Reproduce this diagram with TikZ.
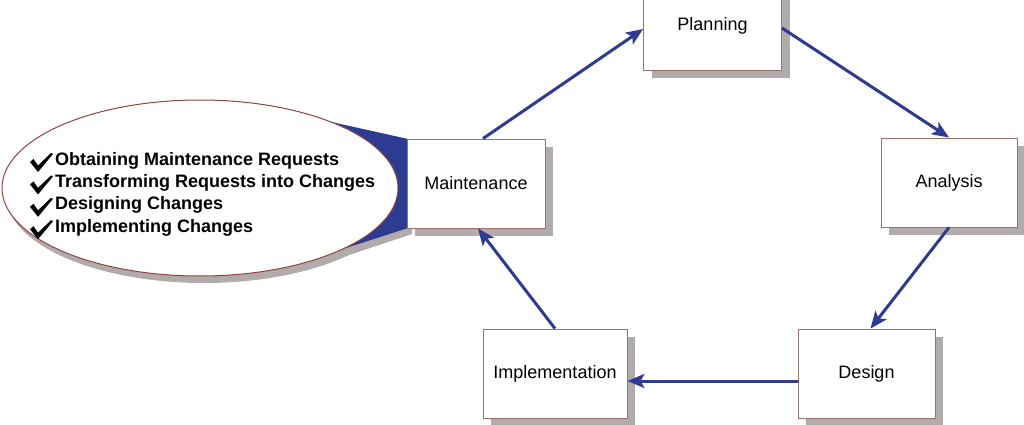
\documentclass[tikz,border=0pt]{standalone}
\usepackage{fontspec}
\setmainfont{Liberation Sans}
\usetikzlibrary{shapes.geometric,shadows,calc,arrows.meta}
\definecolor{arrowblue}{HTML}{2E3B92}
\definecolor{boxedge}{HTML}{9C716C}
\definecolor{shadowgray}{HTML}{B2ABAB}
\definecolor{ovaledge}{HTML}{8E463F}
\begin{document}
\begin{tikzpicture}[x=1pt,y=-1pt,
  phase/.style={draw=boxedge, line width=0.9pt, fill=white, minimum width=137pt, minimum height=89pt, inner sep=0pt,
    font=\fontsize{18}{21}\selectfont,
    drop shadow={shadow xshift=8pt, shadow yshift=-8pt, fill=shadowgray, opacity=1}},
  flow/.style={draw=arrowblue, line width=3pt, -{Stealth[length=17pt,width=14pt,inset=4pt]}},
  item/.style={anchor=base west, inner sep=0pt, font=\bfseries\fontsize{18}{21}\selectfont},
  chk/.style={fill=black}]
\useasboundingbox (0,0) rectangle (1024,425);
\clip (0,0) rectangle (1024,425);
% callout wedge and ellipse
\fill[shadowgray] (204,195) ellipse [x radius=198, y radius=88];
\fill[shadowgray] (260,200) -- (322,264) -- (412,234) -- (412,200) -- cycle;
\fill[arrowblue] (250,188) -- (318,119) -- (408,139) -- (408,228) -- (318,257) -- cycle;
\node[ellipse, draw=ovaledge, line width=1pt, fill=white, minimum width=396pt, minimum height=176pt, inner sep=0pt] (callout) at (200,188) {};
% items
\foreach \i/\t in {0/Obtaining Maintenance Requests,1/Transforming Requests into Changes,2/Designing Changes,3/Implementing Changes}{
  \pgfmathsetmacro{\b}{165+22.4*\i}
  \node[item] (item\i) at (55,\b) {\t};
  \fill[chk] (30,\b-3) -- (33.5,\b-6) -- (38,\b+0.5) -- (51,\b-12) -- (53,\b-11) -- (38,\b+7) -- cycle;
}
% boxes
\node[phase, minimum width=138pt] (plan) at (712.5,26) {Planning};
\node[phase, minimum width=136pt] (ana) at (949,182.5) {Analysis};
\node[phase] (des) at (866.5,373.5) {Design};
\node[phase, minimum width=144pt] (impl) at (555,373.5) {Implementation};
\node[phase, minimum width=138pt] (maint) at (476,183.5) {Maintenance};
% connectors
\draw[flow] ($(maint.north)+(7,0)$) -- ($(plan.west)+(0,3)$);
\draw[flow] ($(plan.east)+(0,2)$) -- (ana.north);
\draw[flow] (ana.south) -- ($(des.north)+(4,0)$);
\draw[flow] ($(des.west)+(0,7.5)$) -- ($(impl.east)+(0,7.5)$);
\draw[flow] (impl.north) -- ($(maint.south)+(2,0)$);
\end{tikzpicture}
\end{document}
